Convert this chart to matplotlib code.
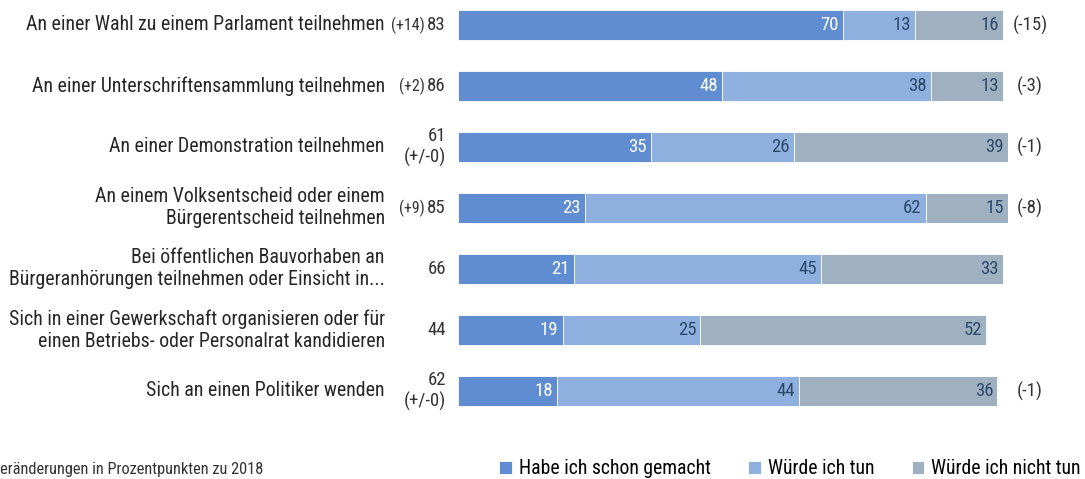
import matplotlib
matplotlib.use("Agg")
import matplotlib.pyplot as plt
import numpy as np

plt.rcParams['font.family'] = ['Roboto Condensed', 'Roboto', 'DejaVu Sans']

kategorien = [
    "An einer Wahl zu einem Parlament teilnehmen",
    "An einer Unterschriftensammlung teilnehmen",
    "An einer Demonstration teilnehmen",
    "An einem Volksentscheid oder einem\nBürgerentscheid teilnehmen",
    "Bei öffentlichen Bauvorhaben an\nBürgeranhörungen teilnehmen oder Einsicht in...",
    "Sich in einer Gewerkschaft organisieren oder für\neinen Betriebs- oder Personalrat kandidieren",
    "Sich an einen Politiker wenden",
]
schon_gemacht = [70, 48, 35, 23, 21, 19, 18]
wuerde_tun = [13, 38, 26, 62, 45, 25, 44]
wuerde_nicht = [16, 13, 39, 15, 33, 52, 36]
gesamt = [83, 86, 61, 85, 66, 44, 62]
veraenderung_gesamt = ["+14", "+2", "+/-0", "+9", None, None, "+/-0"]
veraenderung_nicht = ["-15", "-3", "-1", "-8", None, None, "-1"]

serien = ["Habe ich schon gemacht", "Würde ich tun", "Würde ich nicht tun"]
farben = ["#608dd2", "#8fafdf", "#9fb0c0"]
textfarben = ["white", "#2b4a6b", "#2b4a6b"]

fig = plt.figure(figsize=(10.85, 4.79), dpi=100)
ax = fig.add_axes([458 / 1085, 0.1328, 550 / 1085, 0.866])

y = np.arange(len(kategorien))
links = np.zeros(len(kategorien))
for werte, name, farbe, tf in zip([schon_gemacht, wuerde_tun, wuerde_nicht], serien, farben, textfarben):
    werte = np.array(werte)
    ax.barh(y, werte, left=links, height=0.5, color=farbe, label=name,
            edgecolor="white", linewidth=0.6)
    for i, w in enumerate(werte):
        ax.text(links[i] + w - 0.7, y[i], str(w), ha="right", va="center",
                color=tf, fontsize=13.5)
    links = links + werte

ax.set_xlim(0, 100)
ax.set_ylim(6.4, -0.4)
ax.axis("off")

for i, k in enumerate(kategorien):
    ax.text(-13.3, y[i], k, ha="right", va="center", fontsize=14.3,
            color="#262626", linespacing=1.2)

for i in range(len(kategorien)):
    ch = veraenderung_gesamt[i]
    if ch is None:
        ax.text(-2.2, y[i], str(gesamt[i]), ha="right", va="center", fontsize=13.5, color="#333333")
    elif ch == "+/-0":
        ax.text(-2.2, y[i], f"{gesamt[i]}\n({ch})", ha="right", va="center",
                fontsize=13.5, color="#333333", linespacing=1.25)
    else:
        ax.text(-2.2, y[i], str(gesamt[i]), ha="right", va="center", fontsize=13.5, color="#333333")
        ax.text(-6.1, y[i], f"({ch})", ha="right", va="center", fontsize=11.5, color="#333333")
    cn = veraenderung_nicht[i]
    if cn is not None:
        ax.text(104.0, y[i], f"({cn})", ha="center", va="center", fontsize=13.5, color="#333333")

fig.text(-0.008, 0.004, "Veränderungen in Prozentpunkten zu 2018", fontsize=11.8,
         color="#333333", ha="left", va="bottom")

fig.legend(loc="lower right", bbox_to_anchor=(1.0125, -0.036), ncol=3, frameon=False,
           fontsize=14.2, handlelength=0.65, handleheight=0.65, handletextpad=0.35,
           columnspacing=1.9)

fig.savefig("out.png", dpi=100)
